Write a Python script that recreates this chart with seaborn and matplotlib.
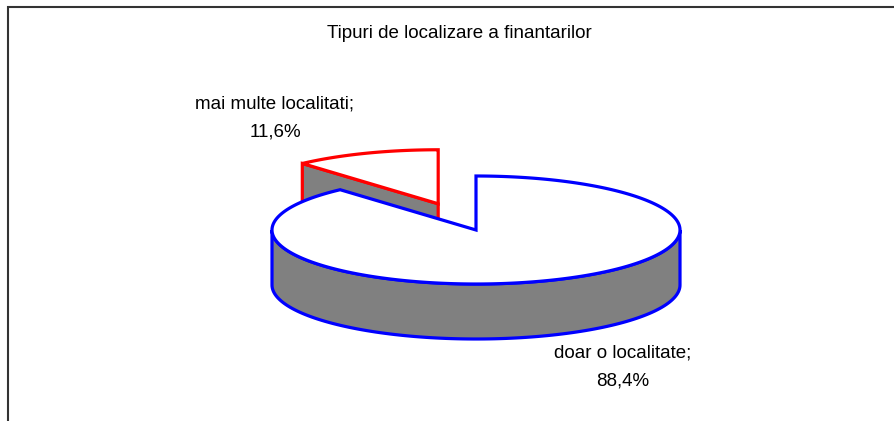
import numpy as np
import matplotlib
matplotlib.use("Agg")
import matplotlib.pyplot as plt
import seaborn as sns
from matplotlib.patches import Polygon

# date
categorii = ["doar o localitate", "mai multe localitati"]
procente = [88.4, 11.6]
etichete = ["doar o localitate;\n88,4%", "mai multe localitati;\n11,6%"]
titlu = "Tipuri de localizare a finantarilor"

sns.set_theme(style="white")
plt.rcParams['font.family'] = ['Liberation Sans', 'DejaVu Sans']

fig = plt.figure(figsize=(8.95, 4.21), dpi=100)
ax = fig.add_axes([0, 0, 1, 1])
ax.set_xlim(0, 895)
ax.set_ylim(421, 0)
ax.axis('off')

# geometria "3D"
cx, cy = 476, 230
rx, ry = 204, 54
adancime = 55
explodare = 0.52
gri = '#808080'
culori = ['#0000ff', '#ff0000']
lw = 2.3


def punct(t, x0, y0, jos=0):
    t = np.radians(t)
    return x0 + rx * np.cos(t), y0 - ry * np.sin(t) + jos


def arc(t1, t2, x0, y0, jos=0, n=120):
    tt = np.linspace(t1, t2, n)
    return [punct(t, x0, y0, jos) for t in tt]


# unghiuri: Excel porneste de la ora 12, in sensul acelor de ceas
mic = 360 * procente[1] / sum(procente)
a_start, a_end = 90, 90 + mic
mij = np.radians((a_start + a_end) / 2)
ex = cx + explodare * rx * np.cos(mij)
ey = cy - explodare * ry * np.sin(mij)

# felia mica (explodata) - fata laterala
p1 = punct(a_end, ex, ey)
fata = [(ex, ey), p1, (p1[0], p1[1] + adancime), (ex, ey + adancime)]
ax.add_patch(Polygon(fata, closed=True, fc=gri, ec=culori[1], lw=lw))
# felia mica - fata de sus
sus = [(ex, ey)] + arc(a_start, a_end, ex, ey)
ax.add_patch(Polygon(sus, closed=True, fc='white', ec=culori[1], lw=lw))

# felia mare - peretele din fata
perete = arc(180, 360, cx, cy) + arc(360, 180, cx, cy, adancime)
ax.add_patch(Polygon(perete, closed=True, fc=gri, ec=culori[0], lw=lw))
# felia mare - fata de sus
sus_mare = [(cx, cy)] + arc(a_end, 450, cx, cy, n=300)
ax.add_patch(Polygon(sus_mare, closed=True, fc='white', ec=culori[0], lw=lw))

# etichete
ax.text(275, 118, etichete[1], ha='center', va='center', fontsize=13.5,
        linespacing=1.8, color='black')
ax.text(623, 367, etichete[0], ha='center', va='center', fontsize=13.5,
        linespacing=1.8, color='black')
ax.text(459, 33, titlu, ha='center', va='center', fontsize=13.5, color='black')

# chenar
ax.plot([8, 8, 895], [421, 7, 7], color='#333333', lw=1.5, solid_joinstyle='miter')

fig.savefig('out.png', dpi=100)
